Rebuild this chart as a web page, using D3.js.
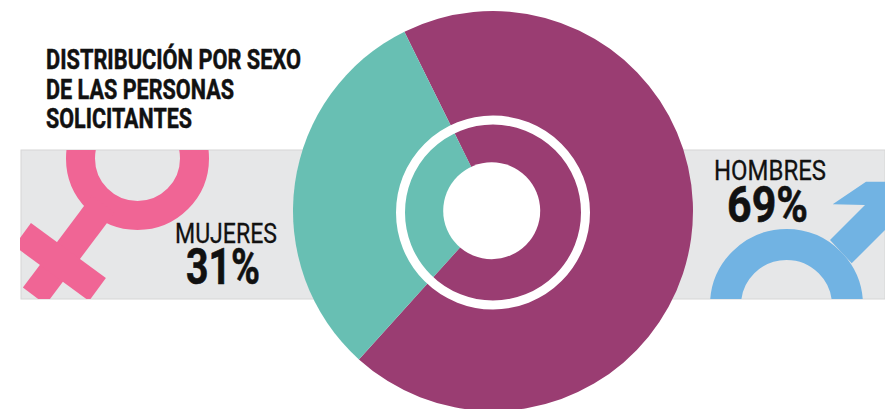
<!DOCTYPE html>
<html><head><meta charset="utf-8">
<script src="https://cdn.jsdelivr.net/npm/d3@7"></script>
<style>html,body{margin:0;padding:0;background:#fff}svg{display:block}</style>
</head><body><svg id="c" width="885" height="409"></svg>
<script>
const categories = ["HOMBRES", "MUJERES"];
const values = [69, 31];
const colors = ["#9a3d72", "#68bfb3"];
const titleLines = ["DISTRIBUCIÓN POR SEXO", "DE LAS PERSONAS", "SOLICITANTES"];

const svg = d3.select("#c");
const FONT = "'Roboto','Liberation Sans',sans-serif";

// band
svg.append("clipPath").attr("id","band").append("rect").attr("x",20).attr("y",150).attr("width",865).attr("height",149);
svg.append("rect").attr("x",21).attr("y",150).attr("width",864).attr("height",149)
  .attr("fill","#e6e7e8").attr("stroke","#d6d6d6").attr("stroke-width",1);

// female symbol
const f = svg.append("g").attr("clip-path","url(#band)").attr("fill","none").attr("stroke","#f06595");
f.append("circle").attr("cx",137.5).attr("cy",158.5).attr("r",57).attr("stroke-width",29);
const fd = d3.path();
fd.moveTo(137.5-0.6*57,158.5+0.8*57); fd.lineTo(137.5-0.6*172,158.5+0.8*172);
f.append("path").attr("d",fd.toString()).attr("stroke-width",28.5);
const fc = d3.path();
fc.moveTo(60-0.806*46.5,262-0.591*46.5); fc.lineTo(60+0.806*46.5,262+0.591*46.5);
f.append("path").attr("d",fc.toString()).attr("stroke-width",28.5);

// male symbol
const m = svg.append("g").attr("clip-path","url(#band)");
m.append("circle").attr("cx",786.5).attr("cy",305.5).attr("r",61).attr("fill","none").attr("stroke","#71b3e3").attr("stroke-width",31);
const ma = d3.path();
ma.moveTo(830,240); ma.lineTo(865,205); ma.lineTo(832.7,204.3); ma.lineTo(866,181.7); ma.lineTo(900,181.7);
ma.lineTo(900,215); ma.lineTo(851.7,263.3); ma.closePath();
m.append("path").attr("d",ma.toString()).attr("fill","#71b3e3");

// pie
const pie = d3.pie().sort(null).startAngle(-26.3*Math.PI/180).endAngle((360-26.3)*Math.PI/180);
const arc = d3.arc().innerRadius(0).outerRadius(200);
const g = svg.append("g").attr("transform","translate(493,211)");
g.selectAll("path").data(pie(values)).join("path")
  .attr("d",arc).attr("fill",(d,i)=>colors[i]);

// rings
svg.append("circle").attr("cx",493).attr("cy",212.5).attr("r",92.5).attr("fill","none").attr("stroke","#fff").attr("stroke-width",9);
svg.append("circle").attr("cx",491.7).attr("cy",210.7).attr("r",48.5).attr("fill","#fff");

// text
function t(s,x,y,size,w,len,sw){
  svg.append("text").attr("x",x).attr("y",y).text(s)
    .attr("font-family",FONT).attr("font-size",size).attr("font-weight",w).attr("fill","#111")
    .attr("textLength",len).attr("lengthAdjust","spacingAndGlyphs")
    .attr("stroke","#111").attr("stroke-width",sw||0);
}
const titleWidths = [255,188,146];
titleLines.forEach((s,i)=>t(s,46,[69,99,128][i],28,"bold",titleWidths[i],0.5));
t(categories[1],175,243,27,"normal",102,0.3);
t(values[1]+"%",186,284,50,"bold",74,0.6);
t(categories[0],714,180,27,"normal",112,0.3);
t(values[0]+"%",727,222,50,"bold",81,0.6);
</script></body></html>
